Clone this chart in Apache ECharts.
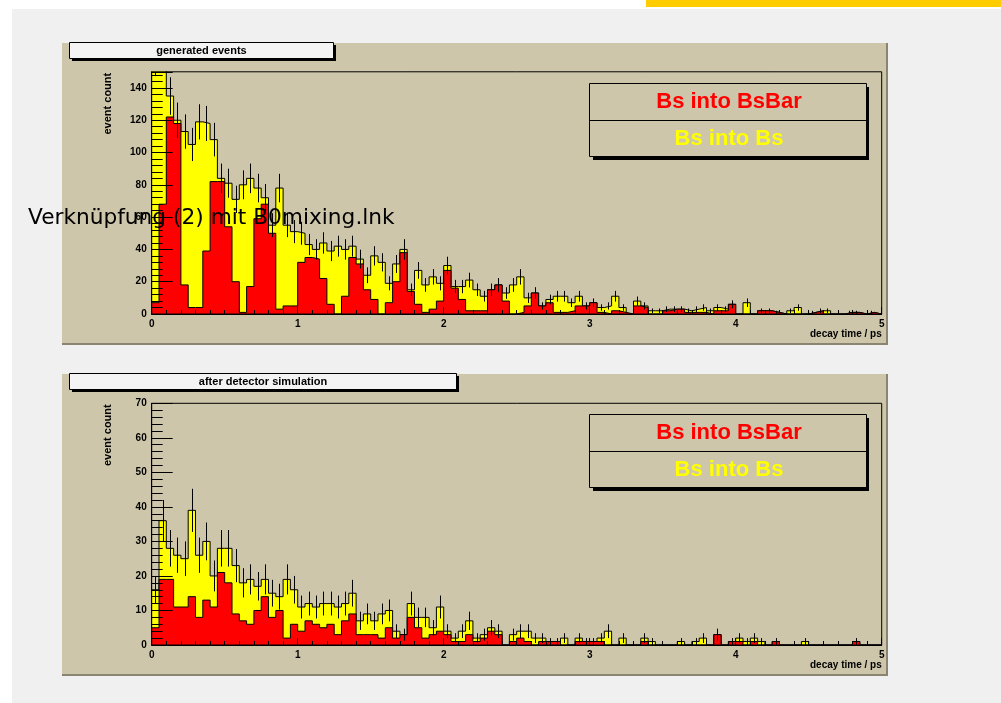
<!DOCTYPE html>
<html>
<head>
<meta charset="utf-8">
<script src="https://cdn.jsdelivr.net/npm/echarts@6/dist/echarts.min.js"></script>
<style>
  html, body { margin: 0; padding: 0; background: #ffffff; }
  #chart { width: 1001px; height: 703px; }
</style>
</head>
<body>
<div id="chart"></div>
<script>
// Decay-time histograms, 100 bins of 0.05 ps from 0 to 5 ps.
const BIN_WIDTH = 0.05;
const xTickValues = [0, 1, 2, 3, 4, 5];

// Generated events: counts per bin
const genBsBar = [
  7, 68, 122, 118, 18, 4, 4, 39, 82, 82,
  54, 20, 1, 17, 59, 68, 50, 3, 5, 5,
  32, 35, 34, 22, 6, 0, 11, 35, 31, 15,
  9, 0, 7, 20, 38, 14, 6, 1, 3, 8,
  27, 16, 9, 2, 2, 2, 15, 18, 8, 0,
  1, 5, 13, 5, 7, 1, 1, 2, 5, 5,
  7, 1, 0, 2, 1, 0, 5, 4, 0, 0,
  2, 3, 3, 1, 1, 1, 0, 2, 2, 6,
  0, 0, 0, 2, 2, 1, 0, 0, 0, 0,
  1, 2, 0, 0, 0, 1, 1, 0, 1, 0
];
const genBs = [
  153, 97, 13, 2, 95, 101, 115, 79, 26, 2,
  27, 51, 79, 67, 19, 4, 5, 75, 50, 46,
  18, 8, 6, 22, 33, 42, 29, 7, 3, 9,
  27, 32, 12, 11, 2, 1, 21, 17, 20, 11,
  3, 1, 8, 19, 13, 9, 0, 0, 5, 18,
  22, 5, 0, 0, 2, 10, 10, 5, 6, 0,
  0, 3, 5, 9, 3, 0, 3, 1, 2, 2,
  1, 0, 0, 1, 2, 3, 2, 2, 1, 0,
  0, 7, 0, 0, 0, 0, 0, 2, 4, 0,
  0, 0, 2, 0, 0, 0, 0, 0, 0, 0
];

// After detector simulation: weighted counts per bin
const simBsBar = [
  5, 19, 19, 11, 11, 14, 8, 13, 11, 21,
  18, 9, 7, 6, 10, 14, 8, 10, 2, 6,
  4, 7, 6, 5, 6, 3, 7, 9, 3, 3,
  3, 2, 5, 2, 3, 8, 5, 2, 3, 4,
  3, 1, 1, 3, 1, 2, 4, 3, 0, 1,
  2, 1, 0, 1, 1, 1, 0, 0, 1, 1,
  1, 1, 0, 0, 0, 0, 0, 1, 0, 0,
  0, 0, 0, 0, 0, 0, 0, 3, 0, 1,
  1, 0, 1, 0, 0, 1, 0, 0, 0, 0,
  0, 0, 0, 0, 0, 0, 1, 0, 0, 0
];
const simBs = [
  11, 17, 9, 15, 14, 25, 18, 17, 9, 7,
  10, 14, 11, 13, 7, 5, 7, 4, 17, 10,
  7, 5, 5, 7, 6, 8, 5, 6, 4, 6,
  4, 7, 5, 2, 0, 4, 3, 6, 2, 7,
  1, 1, 3, 4, 1, 1, 1, 1, 0, 2,
  2, 3, 2, 1, 0, 0, 2, 0, 1, 0,
  0, 1, 4, 0, 2, 0, 0, 1, 1, 0,
  0, 0, 1, 0, 1, 2, 0, 0, 0, 0,
  1, 1, 1, 1, 0, 0, 0, 0, 0, 1,
  0, 0, 0, 0, 0, 0, 0, 0, 0, 0
];

const panelTitles = ['generated events', 'after detector simulation'];
const legendLabels = ['Bs into BsBar', 'Bs into Bs'];
const yAxisTitle = 'event count';
const xAxisTitle = 'decay time / ps';

const RED = '#ff0000';
const YELLOW = '#ffff00';
const PAD = '#cdc6aa';
const FONT = '"Liberation Sans", Arial, sans-serif';

// stacked total = BsBar + Bs
function sum(a, b) { return a.map((v, i) => v + b[i]); }
// histogram outline points at the lower bin edges, closed at the last edge
function stepPoints(vals) {
  const pts = vals.map((v, i) => [+(i * BIN_WIDTH).toFixed(3), v]);
  pts.push([+(vals.length * BIN_WIDTH).toFixed(3), vals[vals.length - 1]]);
  return pts;
}
function errPoints(vals) {
  const out = [];
  vals.forEach((v, i) => { if (v > 0) out.push([(i + 0.5) * BIN_WIDTH, v, Math.sqrt(v)]); });
  return out;
}

const panels = [
  { red: genBsBar, total: sum(genBsBar, genBs), yMax: 150, yInt: 20, grid: { left: 151.7, top: 71.8, width: 730, height: 242.2 } },
  { red: simBsBar, total: sum(simBsBar, simBs), yMax: 70, yInt: 10, grid: { left: 151.7, top: 403.3, width: 730, height: 241.7 } }
];

const grids = [], xAxes = [], yAxes = [], series = [];
panels.forEach((p, k) => {
  grids.push(Object.assign({ show: true, borderColor: '#000', borderWidth: 1, backgroundColor: 'transparent', z: 10 }, p.grid));
  xAxes.push({
    gridIndex: k, type: 'value', min: 0, max: 5, interval: 1, z: 10,
    axisLine: { onZero: false, lineStyle: { color: '#000', width: 1 } },
    axisTick: { inside: true, length: 7, lineStyle: { color: '#000' } },
    minorTick: { show: true, splitNumber: 10, length: 4, lineStyle: { color: '#000' } },
    splitLine: { show: false },
    axisLabel: { margin: 5, color: '#000', fontFamily: FONT, fontWeight: 'bold', fontSize: 10,
      formatter: v => xTickValues.indexOf(v) >= 0 ? String(v) : '' }
  });
  yAxes.push({
    gridIndex: k, type: 'value', min: 0, max: p.yMax, interval: p.yInt, z: 10,
    axisLine: { onZero: false, lineStyle: { color: '#000', width: 1 } },
    axisTick: { inside: true, length: 21, lineStyle: { color: '#000' } },
    minorTick: { show: true, splitNumber: 5, length: 11, lineStyle: { color: '#000' } },
    splitLine: { show: false },
    axisLabel: { margin: 5, color: '#000', fontFamily: FONT, fontWeight: 'bold', fontSize: 10, showMaxLabel: p.yMax % p.yInt === 0 }
  });
  series.push({
    type: 'line', name: legendLabels[1], xAxisIndex: k, yAxisIndex: k, step: 'end', symbol: 'none',
    data: stepPoints(p.total), z: 2, silent: true,
    lineStyle: { color: '#000', width: 1 }, areaStyle: { color: YELLOW, opacity: 1 }
  });
  series.push({
    type: 'line', name: legendLabels[0], xAxisIndex: k, yAxisIndex: k, step: 'end', symbol: 'none',
    data: stepPoints(p.red), z: 3, silent: true,
    lineStyle: { color: '#000', width: 1 }, areaStyle: { color: RED, opacity: 1 }
  });
  const yMax = p.yMax;
  series.push({
    type: 'custom', xAxisIndex: k, yAxisIndex: k, z: 4, silent: true, clip: true,
    data: errPoints(p.total),
    renderItem: (params, api) => {
      const x = api.value(0), v = api.value(1), e = api.value(2);
      const lo = Math.max(0, v - e), hi = Math.min(yMax, v + e);
      if (lo >= yMax) return null;
      const a = api.coord([x, lo]), b = api.coord([x, hi]);
      const px = Math.round(a[0]) + 0.5;
      return { type: 'line', shape: { x1: px, y1: a[1], x2: px, y2: b[1] }, style: { stroke: '#000', lineWidth: 1 } };
    }
  });
});

// pad frames, title boxes, legends and axis titles
const graphics = [
  { type: 'rect', z: -100, shape: { x: 0, y: 0, width: 1001, height: 703 }, style: { fill: '#ffffff' } },
  { type: 'rect', z: -99, shape: { x: 12, y: 9, width: 989, height: 694 }, style: { fill: '#f0f0f0' } },
  { type: 'rect', z: -99, shape: { x: 646, y: 0, width: 355, height: 7 }, style: { fill: '#ffcc00' } }
];
const padTops = [43, 374];
padTops.forEach((t, k) => {
  graphics.push({ type: 'rect', z: -98, shape: { x: 62, y: t, width: 826, height: 302 }, style: { fill: '#8a8470' } });
  graphics.push({ type: 'rect', z: -97, shape: { x: 62, y: t, width: 824, height: 300 }, style: { fill: PAD } });
  const tw = k === 0 ? 264 : 387;
  graphics.push({ type: 'rect', z: 20, shape: { x: 72, y: t + 2, width: tw, height: 16 }, style: { fill: '#000' } });
  graphics.push({ type: 'rect', z: 21, shape: { x: 69.5, y: t - 0.5, width: tw, height: 16 }, style: { fill: '#f4f4f4', stroke: '#000', lineWidth: 1 } });
  graphics.push({ type: 'text', z: 22, x: 69.5 + tw / 2, y: t + 7.5, style: { text: panelTitles[k], font: 'bold 11px ' + FONT, fill: '#000', align: 'center', verticalAlign: 'middle' } });
  const ly = t + 41;
  graphics.push({ type: 'rect', z: 20, shape: { x: 593, y: ly + 3, width: 276, height: 73 }, style: { fill: '#000' } });
  graphics.push({ type: 'rect', z: 21, shape: { x: 589.5, y: ly - 0.5, width: 277, height: 73 }, style: { fill: PAD, stroke: '#000', lineWidth: 1 } });
  graphics.push({ type: 'line', z: 22, shape: { x1: 590, y1: ly + 36.5, x2: 866, y2: ly + 36.5 }, style: { stroke: '#000', lineWidth: 1 } });
  graphics.push({ type: 'text', z: 22, x: 729, y: ly + 18, style: { text: legendLabels[0], font: 'bold 22px ' + FONT, fill: RED, align: 'center', verticalAlign: 'middle' } });
  graphics.push({ type: 'text', z: 22, x: 729, y: ly + 55, style: { text: legendLabels[1], font: 'bold 22px ' + FONT, fill: YELLOW, align: 'center', verticalAlign: 'middle' } });
  const g = panels[k].grid;
  graphics.push({ type: 'text', z: 22, x: 108, y: g.top + 1, rotation: Math.PI / 2, style: { text: yAxisTitle, font: 'bold 11px ' + FONT, fill: '#000', align: 'right', verticalAlign: 'middle' } });
  graphics.push({ type: 'text', z: 22, x: g.left + g.width, y: g.top + g.height + 20, style: { text: xAxisTitle, font: 'bold 10px ' + FONT, fill: '#000', align: 'right', verticalAlign: 'middle' } });
});
graphics.push({ type: 'text', z: 30, x: 28, y: 218, style: { text: 'Verknüpfung (2) mit B0mixing.lnk', font: '21.7px "DejaVu Sans", sans-serif', fill: '#000', align: 'left', verticalAlign: 'middle' } });

const chart = echarts.init(document.getElementById('chart'), null, { renderer: 'canvas' });
chart.setOption({
  animation: false,
  backgroundColor: 'transparent',
  grid: grids,
  xAxis: xAxes,
  yAxis: yAxes,
  series: series,
  graphic: { elements: graphics }
});
</script>
</body>
</html>
